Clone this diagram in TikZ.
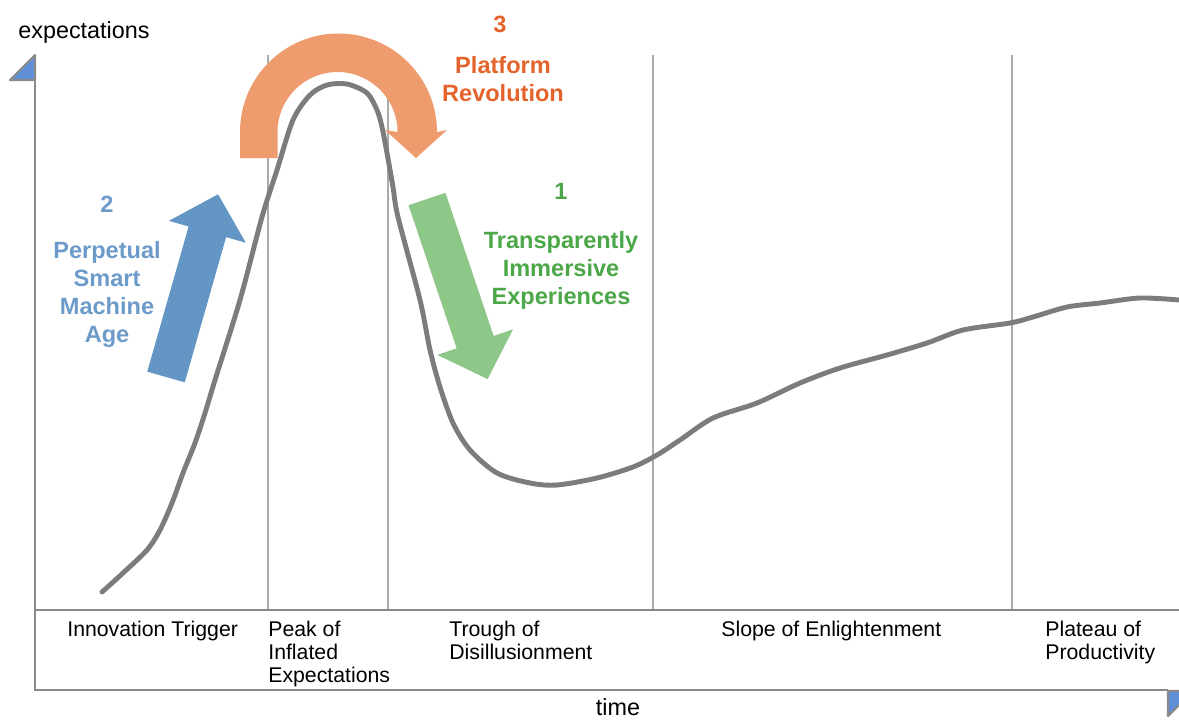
\documentclass[tikz,border=0pt]{standalone}
\usepackage{fontspec}
\setmainfont{Liberation Sans}
\definecolor{axisgray}{HTML}{8A8A8A}
\definecolor{linegray}{HTML}{ABABAB}
\definecolor{curvegray}{HTML}{7C7C7C}
\definecolor{tipblue}{HTML}{5E8FD8}
\definecolor{arrowblue}{HTML}{6496C5}
\definecolor{arrowgreen}{HTML}{8DC888}
\definecolor{arroworange}{HTML}{EE9B6E}
\definecolor{textblue}{HTML}{6C9BCA}
\definecolor{textgreen}{HTML}{4BA748}
\definecolor{textorange}{HTML}{E4632A}

\begin{document}
\begin{tikzpicture}[x=0.2mm,y=-0.2mm,
  phase/.style={anchor=north west,inner sep=0pt,align=left,font=\fontsize{12.1}{13}\selectfont},
  tag/.style={anchor=north,inner sep=0pt,align=center,font=\bfseries\fontsize{13.4}{15.9}\selectfont}]
\useasboundingbox(0,0)rectangle(1179,719);
% phase separators
\foreach \x in {268,388,653,1012}{\draw[linegray,line width=1.4pt](\x,55)--(\x,610);}
\draw[axisgray,line width=1.4pt](35,610)--(1179,610);
% axes
\draw[axisgray,line width=1.6pt](35,80)--(35,690)--(1168,690);
\filldraw[fill=tipblue,draw=axisgray,line width=1.2pt,line join=round](35,55)--(35,80)--(10,80)--cycle;
\filldraw[fill=tipblue,draw=axisgray,line width=1.2pt,line join=round](1168,691)--(1168,716)--(1193,691)--cycle;
\node[anchor=base west,inner sep=0pt,font=\fontsize{13.3}{15}\selectfont](ylabel)at(18,38){expectations};
\node[anchor=base,inner sep=0pt,font=\fontsize{13.3}{15}\selectfont](xlabel)at(618,715){time};
% straight block arrows
\foreach \pos/\ang/\col in {{(166,377)}/74.1/arrowblue,{(427,199)}/-71.4/arrowgreen}
  {\fill[\col,shift={\pos},rotate=\ang](0,-19.5)--(151,-19.5)--(151,-40)--(190,0)--(151,40)--(151,19.5)--(0,19.5)--cycle;}
% bent arrow over the peak
\fill[arroworange](240,158)--(240,132)arc[start angle=180,end angle=360,radius=98.5]--(447,130)--(416,158)--(385,130)--(397.5,132)arc[start angle=360,end angle=180,radius=60]--(277.5,158)--cycle;
% hype curve
\draw[curvegray,line width=2.8pt,line cap=round,line join=round]plot[smooth,tension=0.5]coordinates{(102,592)(123,573)(147,550)(160,530)(172,503)(183,473)(195,443)(205,413)(215,380)(240,300)(262,217)(277,170)(293,120)(310,95)(327,85)(347,84)(367,93)(377,110)(382,127)(387,153)(393,187)(398,217)(420,300)(430,350)(440,387)(453,423)(470,450)(497,473)(530,483)(557,485)(597,478)(633,467)(657,455)(680,440)(713,418)(757,403)(800,383)(840,368)(887,355)(927,343)(963,330)(1010,323)(1033,317)(1067,307)(1100,303)(1140,298)(1179,300)};
% phase names
\node[phase](trigger)at(67,621){Innovation Trigger};
\node[phase](peak)at(268,621){Peak of\\Inflated\\Expectations};
\node[phase](trough)at(449,621){Trough of\\Disillusionment};
\node[phase](slope)at(721,621){Slope of Enlightenment};
\node[phase](plateau)at(1045,621){Plateau of\\Productivity};
% numbered tags
\node[tag,textblue](num2)at(107,196){2};
\node[tag,textblue](smart)at(107,241){Perpetual\\Smart\\Machine\\Age};
\node[tag,textgreen](num1)at(561,183){1};
\node[tag,textgreen](immersive)at(561,231){Transparently\\Immersive\\Experiences};
\node[tag,textorange](num3)at(500,16){3};
\node[tag,textorange](platform)at(503,56){Platform\\Revolution};
\end{tikzpicture}
\end{document}
